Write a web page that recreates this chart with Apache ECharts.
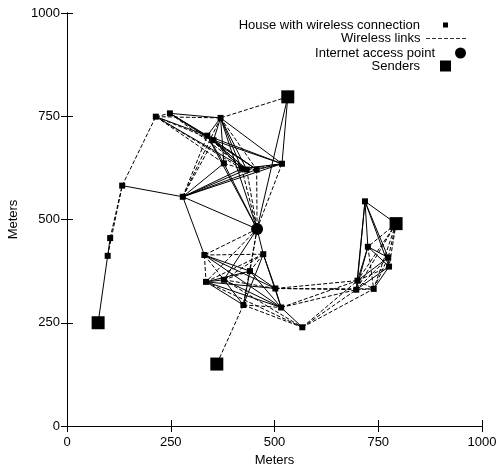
<!DOCTYPE html>
<html>
<head>
<meta charset="utf-8">
<script src="https://cdn.jsdelivr.net/npm/echarts@6/dist/echarts.min.js"></script>
<style>
  html, body { margin: 0; padding: 0; background: #fff; }
  #chart { width: 496px; height: 466px; }
</style>
</head>
<body>
<div id="chart"></div>
<script>
// houses, index 0..29
const houses = [
  [133, 582], [104, 455], [98, 412], [214, 749], [248, 757],
  [370, 746], [338, 703], [353, 692], [378, 636], [421, 623],
  [433, 621], [457, 621], [518, 635], [279, 555], [331, 414],
  [473, 416], [441, 375], [335, 349], [378, 354], [502, 333],
  [425, 293], [516, 287], [567, 239], [718, 544], [725, 434],
  [774, 408], [776, 386], [700, 352], [697, 330], [739, 332]
]
// index 30
const accessPoint = [[458, 477]]
// index 31..34
const senders = [[75, 250], [532, 797], [793, 490], [361, 150]]

const ticks = [0, 250, 500, 750, 1000]

const solidLinks = [
  [31, 2], [2, 1], [0, 13], [4, 5], [3, 6], [3, 10], [4, 6], [4, 7], [4, 11],
  [5, 6], [5, 7], [5, 8], [5, 9], [5, 10], [5, 12], [5, 30],
  [32, 12], [32, 30], [12, 9], [12, 6], [12, 7], [6, 7], [6, 8], [6, 10], [7, 9], [7, 11],
  [13, 8], [13, 9], [13, 10], [13, 11], [13, 12], [13, 30], [13, 14],
  [8, 30], [6, 30],
  [14, 16], [14, 19], [14, 21], [30, 15], [30, 18],
  [15, 20], [15, 21], [15, 19], [16, 17], [16, 20], [16, 19], [16, 21],
  [17, 18], [17, 19], [17, 20], [17, 21], [18, 20], [18, 21], [19, 21], [21, 22],
  [23, 33], [23, 24], [23, 27], [23, 28], [23, 25], [23, 26],
  [24, 25], [24, 26], [24, 27], [24, 28], [25, 26], [25, 27], [26, 28], [26, 29], [27, 28]
]
const dashedLinks = [
  [1, 0], [2, 0], [0, 3], [3, 5], [3, 4], [3, 7], [3, 9], [3, 8], [4, 10],
  [5, 11], [5, 13], [32, 5], [12, 11], [12, 10], [12, 30], [6, 9], [6, 11], [7, 10],
  [8, 9], [9, 10], [10, 11], [11, 12], [13, 6], [13, 7],
  [9, 30], [10, 30], [11, 30],
  [14, 15], [14, 17], [14, 18], [30, 14], [30, 16], [30, 17], [30, 20],
  [15, 17], [15, 18], [15, 16], [16, 18], [17, 22], [18, 19], [18, 22],
  [19, 27], [19, 28], [19, 29], [20, 21], [20, 22], [20, 34],
  [21, 27], [21, 28], [22, 27], [22, 28], [22, 29],
  [33, 24], [33, 25], [33, 26], [33, 27], [33, 28], [33, 29],
  [24, 29], [25, 28], [26, 27], [25, 29], [27, 29], [28, 29]
]

const allNodes = houses.concat(accessPoint, senders)
const toCoords = links => links.map(l => ({ coords: [allNodes[l[0]], allNodes[l[1]]] }))

const font = "'Liberation Sans', Arial, Helvetica, sans-serif"
const black = '#000'

// legend icons: a marker centred in a 41px wide slot, or a dashed stroke
function slotIcon(s) {
  const a = (41 - s) / 2
  return 'path://M0,0L0.01,0M41,0L41.01,0M0,' + s + 'L0.01,' + s +
    'M' + a + ',0h' + s + 'v' + s + 'h-' + s + 'z'
}
const dashIcon = 'path://M0,0h4v1h-4zM6,0h4v1h-4zM12,0h4v1h-4zM18,0h4v1h-4zM24,0h4v1h-4zM30,0h4v1h-4zM36,0h4v1h-4z'

function legendRow(name, top, h, icon) {
  return {
    data: [{ name: name, icon: icon }], top: top, right: 30, padding: 0, align: 'right',
    itemWidth: 41, itemHeight: h, selectedMode: false,
    itemStyle: { color: black },
    textStyle: { fontFamily: font, fontSize: 13, color: black, lineHeight: 14 }
  }
}

const axisCommon = {
  type: 'value', min: 0, max: 1000, interval: 250,
  splitLine: { show: false },
  axisLine: { show: true, lineStyle: { color: black, width: 1 } },
  axisTick: { show: true, inside: true, length: 6, lineStyle: { color: black } }
}
const labelStyle = { fontFamily: font, fontSize: 13, color: black, formatter: v => String(v) }

let chart = echarts.init(document.getElementById('chart'))
chart.setOption({
  animation: false,
  backgroundColor: '#fff',
  grid: { left: 67, right: 14, top: 13, bottom: 40, containLabel: false, outerBoundsMode: 'none' },
  legend: [
    legendRow('House with wireless connection', 18, 5, slotIcon(5)),
    legendRow('Wireless links', 31.5, 1, dashIcon),
    legendRow('Internet access point', 46, 11, 'circle'),
    legendRow('Senders', 59, 11, slotIcon(11))
  ],
  xAxis: [
    Object.assign({}, axisCommon, {
      position: 'bottom', name: 'Meters', nameLocation: 'middle', nameGap: 28,
      nameTextStyle: { fontFamily: font, fontSize: 13, color: black },
      axisLabel: Object.assign({ margin: 10 }, labelStyle)
    }),
    Object.assign({}, axisCommon, { position: 'top', axisLabel: { show: false } })
  ],
  yAxis: [
    Object.assign({}, axisCommon, {
      position: 'left', name: 'Meters', nameLocation: 'middle', nameGap: 40,
      nameTextStyle: { fontFamily: font, fontSize: 13, color: black },
      axisLabel: Object.assign({ margin: 7 }, labelStyle)
    }),
    Object.assign({}, axisCommon, { position: 'right', axisLabel: { show: false } })
  ],
  series: [
    {
      type: 'lines', coordinateSystem: 'cartesian2d', polyline: false, silent: true,
      lineStyle: { color: black, width: 1, type: 'solid', opacity: 1 },
      data: toCoords(solidLinks), z: 2
    },
    {
      type: 'lines', coordinateSystem: 'cartesian2d', polyline: false, silent: true,
      lineStyle: { color: black, width: 1, type: [4, 2], opacity: 1 },
      data: toCoords(dashedLinks), z: 2
    },
    {
      name: 'Wireless links', type: 'scatter', data: [], itemStyle: { color: black }
    },
    {
      name: 'House with wireless connection', type: 'scatter', symbol: 'rect', symbolSize: 6,
      itemStyle: { color: black, opacity: 1 }, data: houses, z: 5
    },
    {
      name: 'Internet access point', type: 'scatter', symbol: 'circle', symbolSize: 12,
      itemStyle: { color: black, opacity: 1 }, data: accessPoint, z: 5
    },
    {
      name: 'Senders', type: 'scatter', symbol: 'rect', symbolSize: 13,
      itemStyle: { color: black, opacity: 1 }, data: senders, z: 5
    }
  ]
})
window.addEventListener('resize', () => chart.resize())
</script>
</body>
</html>
